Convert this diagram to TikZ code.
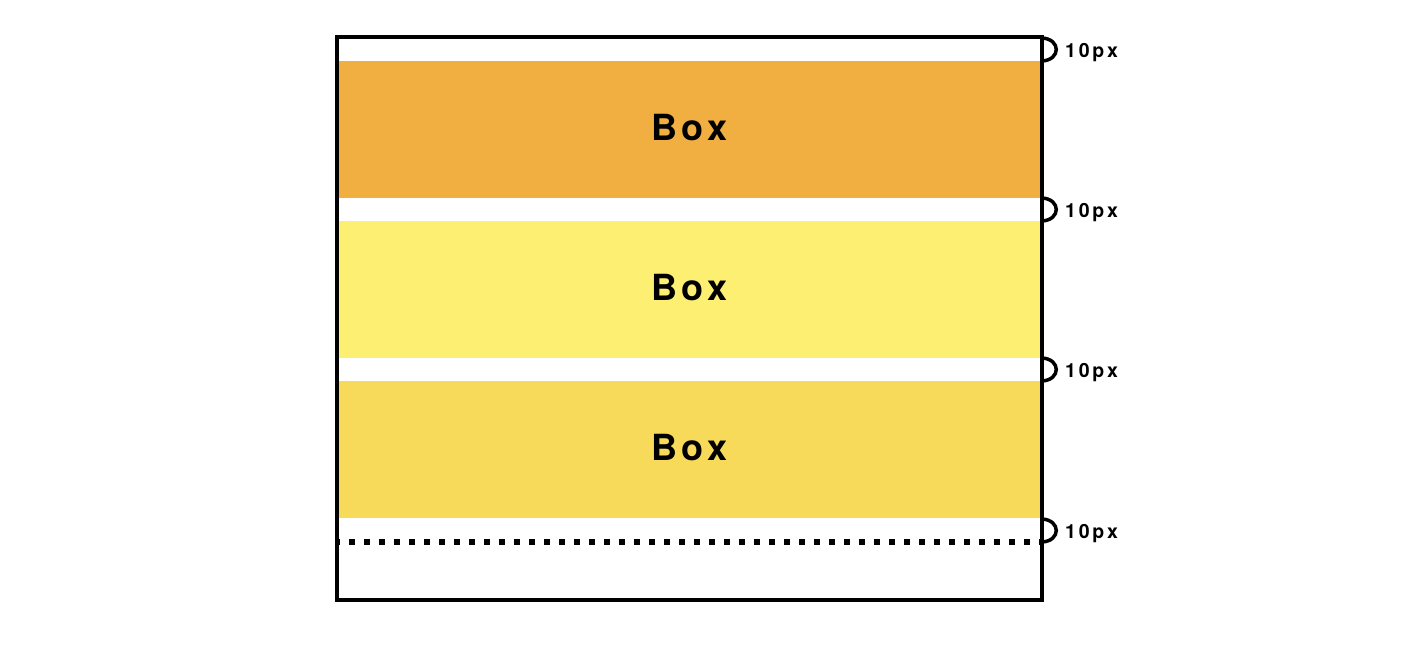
\documentclass[tikz,border=0pt]{standalone}
\usepackage{fontspec}
\setmainfont{TeX Gyre Heros}
\definecolor{boxA}{HTML}{F2AF41}
\definecolor{boxB}{HTML}{FDEF72}
\definecolor{boxC}{HTML}{F7DA5A}
\begin{document}
\begin{tikzpicture}[x=1pt,y=-1pt,
  band/.style={draw=none,minimum width=701pt,minimum height=137pt,inner sep=0pt,
    font=\fontsize{36}{40}\selectfont\bfseries\addfontfeature{LetterSpace=11}},
  boxtext/.style={inner sep=0pt,yshift=2pt,font=\fontsize{36}{40}\selectfont\bfseries\addfontfeature{LetterSpace=11}},
  gaplabel/.style={anchor=base west,inner sep=0pt,font=\fontsize{19.5}{22}\selectfont\bfseries\addfontfeature{LetterSpace=14}},
  brace/.style={line width=3.5pt}]
\useasboundingbox (0,0) rectangle (1418,664);
\node[draw,line width=4pt,minimum width=705pt,minimum height=563pt,inner sep=0pt] (outer) at (689.5,318.5) {};
\node[band,fill=boxA] (b1) at (689.5,129.5) {};
\node[band,fill=boxB] (b2) at (689.5,289.5) {};
\node[band,fill=boxC] (b3) at (689.5,449.5) {};
\node[boxtext] (t1) at (b1) {Box};
\node[boxtext] (t2) at (b2) {Box};
\node[boxtext] (t3) at (b3) {Box};
\coordinate (dl) at (337,542);
\coordinate (dr) at (1040,542);
\draw[line width=6.5pt,dash pattern=on 6pt off 9pt,dash phase=3pt] (dl) -- (dr);
\foreach \i/\ya/\yb in {1/38/61,2/198/221,3/358/381,4/519/542}{
  \coordinate (s\i) at (1042,\ya);
  \coordinate (e\i) at (1042,\yb);
  \draw[brace] (s\i) .. controls +(19,1) and +(19,-1) .. (e\i);
  \node[gaplabel] (l\i) at (1065,{(\ya+\yb)/2+8}) {10px};
}
\end{tikzpicture}
\end{document}
